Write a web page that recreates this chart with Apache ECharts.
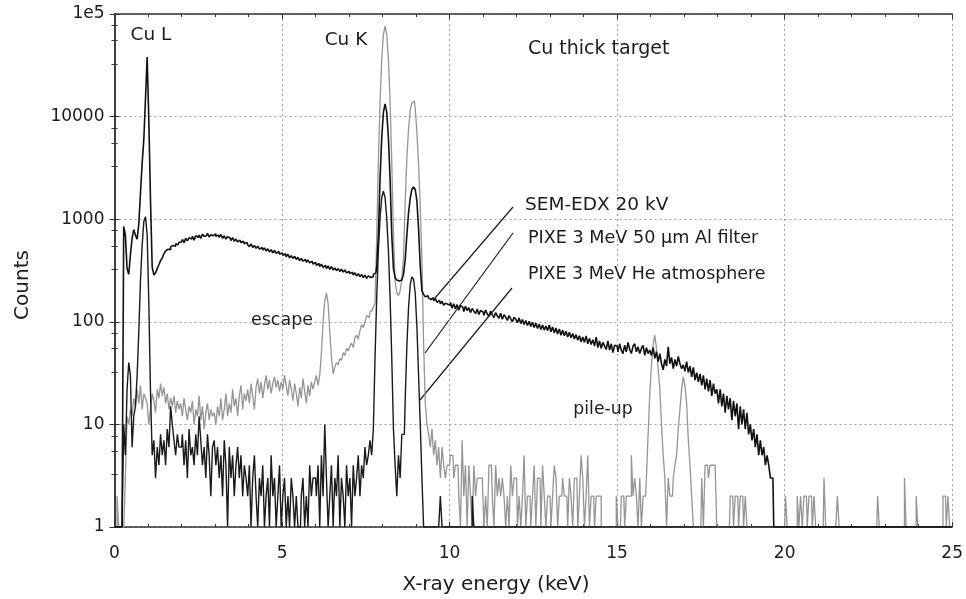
<!DOCTYPE html>
<html><head><meta charset="utf-8">
<script src="https://cdn.jsdelivr.net/npm/echarts@6/dist/echarts.min.js"></script>
<style>html,body{margin:0;padding:0;background:#fff}#chart{width:966px;height:599px}</style>
</head><body><div id="chart"></div>
<script>
// Channel width of the spectra (keV); channel i is at energy i * channelWidthKeV
const channelWidthKeV = 0.05;

// SEM-EDX 20 kV (black)
const semEdx20kV = [
1,1,1,1,1,1,850,700,330,290,450,650,790,700,640,900,1800,3500,6000,15000,
38000,9000,1500,340,286,300,330,360,395,420,460,490,510,505,540,555,545,575,565,595,
600,635,590,650,615,660,640,680,625,690,665,700,650,715,680,695,730,670,705,690,
720,680,700,665,710,650,690,640,675,655,620,660,610,640,600,625,590,610,575,595,
565,540,575,530,555,520,545,510,530,500,525,490,515,480,505,470,495,465,485,455,
470,445,460,430,455,420,440,415,435,405,425,395,415,390,405,380,400,375,390,365,
380,355,370,345,365,340,355,330,350,325,345,320,335,315,330,310,325,305,320,300,
310,295,305,285,300,280,295,275,290,270,285,265,280,270,275,290,300,340,700,2450,
6200,11000,13300,11000,6200,2450,700,330,270,255,250,255,260,290,400,700,1150,1600,1950,2060,
1950,1500,800,350,200,185,175,180,170,165,172,160,168,155,162,150,158,145,152,148,
145,155,136,150,133,147,130,144,138,126,142,129,137,123,135,127,120,133,118,129,
125,116,130,119,113,127,117,110,123,114,108,121,106,117,111,103,115,107,100,111,
106,98,109,96,105,94,103,92,101,90,99,88,97,86,95,84,93,83,91,82,
93,80,89,78,87,76,85,74,83,73,81,71,79,70,77,68,75,66,73,64,
71,63,73,61,69,60,67,58,71,56,65,55,63,58,54,65,53,61,50,59,
58,51,61,53,49,59,51,63,54,49,58,61,51,57,49,55,59,47,56,49,
53,47,56,44,51,41,49,39,34,43,37,57,39,45,35,43,37,46,39,35,
38,33,41,32,37,29,36,27,32,26,31,24,30,22,28,21,27,19,25,20,
22,16,22,15,20,13,19,14,18,11,17,12,16,9,15,10,14,9,13,8,
10,7,9,6,8,5,7,5,6,4,5,4,3,3,1,1,1,1,1,1,
1,1,1,1,1,1,1,1,1,1,1,1,1,1,1,1,1,1,1,1,
1,1,1,1,1,1,1,1,1,1,1,1,1,1,1,1,1,1,1,1,
1,1,1,1,1,1,1,1,1,1,1,1,1,1,1,1,1,1,1,1,
1,1,1,1,1,1,1,1,1,1,1,1,1,1,1,1,1,1,1,1,
1,1,1,1,1,1,1,1,1,1,1,1,1,1,1,1,1,1,1,1,
1
];

// PIXE 3 MeV 50 µm Al filter (grey, with escape and pile-up peaks)
const pixeAlFilter = [
1,1,2,1,1,1,1,3,12,10,14,12,18,15,22,16,24,14,20,18,
16,10,14,20,17,13,22,18,25,19,23,16,20,14,18,15,19,13,17,14,
16,12,18,14,11,15,13,17,10,14,12,19,11,15,9,13,16,11,14,12,
13,10,15,12,18,11,14,20,12,16,13,22,15,18,12,19,24,14,20,17,
22,16,25,19,14,23,28,20,26,18,24,30,22,27,20,25,29,23,27,21,
26,22,30,24,19,27,22,17,25,20,15,23,18,28,21,16,24,19,26,22,
26,30,24,30,50,100,160,190,150,80,45,31,36,40,38,44,42,50,47,55,
52,58,62,56,70,74,68,82,94,88,100,115,110,125,130,140,150,660,3600,13800,
36000,63000,76000,63000,36000,13800,3600,700,250,190,180,200,260,420,1420,3900,7500,11500,13600,14200,
12000,7000,3400,1300,400,60,16,10,8,6,9,5,7,4,6,3,6,4,3,4,
4,5,5,3,4,4,2,1,7,2,4,1,4,2,1,4,2,3,3,3,
3,1,2,1,4,4,2,1,4,2,3,2,3,2,1,2,1,4,2,3,
3,1,2,1,2,5,1,2,2,1,2,4,1,3,3,1,4,2,1,2,
2,1,2,4,3,1,2,2,3,2,2,1,3,2,1,3,3,1,2,5,
3,1,2,5,1,2,2,1,2,2,2,1,1,1,1,1,1,1,1,1,
2,1,1,2,2,1,2,2,2,5,2,3,2,1,3,1,2,2,3,8,
20,38,60,74,55,35,22,10,5,3,1,3,2,2,3,4,5,9,14,22,
29,24,16,7,4,2,1,1,1,1,1,3,1,4,4,3,4,4,4,4,
1,1,1,1,1,1,1,1,2,2,1,2,2,1,2,2,1,2,1,1,
1,1,1,1,1,1,1,1,1,1,1,1,1,1,1,1,1,1,1,1,
1,2,1,1,1,1,1,1,2,1,2,1,2,2,1,2,2,1,2,1,
1,1,1,1,3,1,1,1,1,1,1,1,2,1,1,1,1,1,1,1,
1,1,1,1,1,1,1,1,1,1,1,1,1,1,1,1,2,1,1,1,
1,1,1,1,1,1,1,1,1,1,1,1,3,1,1,1,1,1,1,2,
1,1,1,1,1,1,1,1,1,1,1,1,1,1,1,2,2,1,2,1,
1
];

// PIXE 3 MeV He atmosphere (black)
const pixeHeAtmosphere = [
1,1,1,1,1,1,10,5,22,40,30,6,12,15,30,80,250,550,950,1060,
700,150,20,5,7,3,6,4,8,5,7,4,9,6,15,10,7,5,8,6,
6,8,4,7,3,9,5,6,4,8,5,12,7,4,6,3,8,5,2,6,
7,4,6,3,5,2,7,4,1,6,3,5,2,4,6,3,5,2,4,3,
2,4,1,3,5,2,1,3,2,4,1,2,3,1,5,2,3,1,2,4,
1,2,3,1,2,1,3,2,1,2,1,1,2,3,1,2,1,4,2,3,
3,2,4,1,5,2,10,3,1,2,4,1,3,2,5,1,3,2,1,4,
2,3,1,4,2,3,5,2,4,3,6,4,5,7,5,9,44,172,490,1030,
1620,1880,1620,1030,490,172,44,9,4,2,5,3,8,8,17,58,137,230,274,260,
190,90,30,10,3,1,1,1,1,1,1,1,1,1,1,2,1,1,1,1,
1,1,1,1,1,1,1,1,1,1,1,1,1,1,2,1,1,1,1,1,
1,1,1,1,1,1,1,1,1,1,1,1,1,1,1,1,1,1,1,1,
1,1,1,1,1,1,1,1,1,1,1,1,1,1,1,1,1,1,1,1,
1,1,1,1,1,1,1,1,1,1,1,1,1,1,1,1,1,1,1,1,
1,1,1,1,1,1,1,1,1,1,1,1,1,1,1,1,1,1,1,1,
1,1,1,1,1,1,1,1,1,1,1,1,1,1,1,1,1,1,1,1,
1,1,1,1,1,1,1,1,1,1,1,1,1,1,1,1,1,1,1,1,
1,1,1,1,1,1,1,1,1,1,1,1,1,1,1,1,1,1,1,1,
1,1,1,1,1,1,1,1,1,1,1,1,1,1,1,1,1,1,1,1,
1,1,1,1,1,1,1,1,1,1,1,1,1,1,1,1,1,1,1,1,
1,1,1,1,1,1,1,1,1,1,1,1,1,1,1,1,1,1,1,1,
1,1,1,1,1,1,1,1,1,1,1,1,1,1,1,1,1,1,1,1,
1,1,1,1,1,1,1,1,1,1,1,1,1,1,1,1,1,1,1,1,
1,1,1,1,1,1,1,1,1,1,1,1,1,1,1,1,1,1,1,1,
1,1,1,1,1,1,1,1,1,1,1,1,1,1,1,1,1,1,1,1,
1
];

const energyKeV = semEdx20kV.map((_, i) => Math.round(i * channelWidthKeV * 100) / 100);

const xTickLabels = ['0', '5', '10', '15', '20', '25'];
const yTickLabels = { 1: '1', 10: '10', 100: '100', 1000: '1000', 10000: '10000', 100000: '1e5' };

const FONT = '"DejaVu Sans", sans-serif';
const INK = '#1c1c1c';

function pairs(values) { return values.map((v, i) => [energyKeV[i], v]); }

const chart = echarts.init(document.getElementById('chart'), null, { renderer: 'canvas' });

const gridLine = { show: true, lineStyle: { color: '#a0a0a0', type: [2, 3], width: 1 } };
const axisLine = { show: true, lineStyle: { color: '#333', width: 1.5 } };
const tick = { show: true, inside: true, length: 5, lineStyle: { color: '#333' } };

chart.setOption({
  animation: false,
  backgroundColor: '#fff',
  grid: { left: 114.5, right: 13.3, top: 14, bottom: 72, containLabel: false },
  xAxis: [
    {
      type: 'value', min: 0, max: 25, interval: 5, position: 'bottom',
      axisLine, axisTick: tick,
      minorTick: { show: true, splitNumber: 5, length: 3, lineStyle: { color: '#333' } },
      splitLine: gridLine,
      axisLabel: { fontFamily: FONT, fontSize: 17, color: INK, margin: 18,
        formatter: v => xTickLabels[Math.round(v / 5)] }
    },
    {
      type: 'value', min: 0, max: 25, interval: 5, position: 'top',
      axisLine, axisTick: tick,
      minorTick: { show: true, splitNumber: 5, length: 3, lineStyle: { color: '#333' } },
      splitLine: { show: false }, axisLabel: { show: false }
    }
  ],
  yAxis: [
    {
      type: 'log', logBase: 10, min: 1, max: 100000, splitNumber: 5, position: 'left',
      axisLine, axisTick: tick,
      minorTick: { show: true, splitNumber: 4, length: 3, lineStyle: { color: '#333' } },
      splitLine: gridLine,
      axisLabel: { fontFamily: FONT, fontSize: 17, color: INK, margin: 10,
        formatter: v => yTickLabels[Math.round(v)] || '' }
    },
    {
      type: 'log', logBase: 10, min: 1, max: 100000, splitNumber: 5, position: 'right',
      axisLine, axisTick: tick,
      minorTick: { show: true, splitNumber: 4, length: 3, lineStyle: { color: '#333' } },
      splitLine: { show: false }, axisLabel: { show: false }
    }
  ],
  series: [
    { name: 'PIXE 3 MeV 50 µm Al filter', type: 'line', step: 'middle', showSymbol: false, symbol: 'none',
      data: pairs(pixeAlFilter), lineStyle: { color: '#959595', width: 1.3 }, silent: true, z: 2 },
    { name: 'PIXE 3 MeV He atmosphere', type: 'line', step: 'middle', showSymbol: false, symbol: 'none',
      data: pairs(pixeHeAtmosphere), lineStyle: { color: '#1a1a1a', width: 1.4 }, silent: true, z: 3 },
    { name: 'SEM-EDX 20 kV', type: 'line', step: 'middle', showSymbol: false, symbol: 'none',
      data: pairs(semEdx20kV), lineStyle: { color: '#111', width: 1.6 }, silent: true, z: 4 }
  ],
  graphic: [
    { type: 'text', x: 151, y: 35, style: { text: 'Cu L', font: '18.5px ' + FONT, fill: INK, align: 'center', verticalAlign: 'middle' } },
    { type: 'text', x: 346, y: 40, style: { text: 'Cu K', font: '18.5px ' + FONT, fill: INK, align: 'center', verticalAlign: 'middle' } },
    { type: 'text', x: 528, y: 49, style: { text: 'Cu thick target', font: '19px ' + FONT, fill: INK, align: 'left', verticalAlign: 'middle' } },
    { type: 'text', x: 525, y: 205, style: { text: 'SEM-EDX 20 kV', font: '18.5px ' + FONT, fill: INK, align: 'left', verticalAlign: 'middle' } },
    { type: 'text', x: 528, y: 238, style: { text: 'PIXE 3 MeV 50 µm Al filter', font: '17.6px ' + FONT, fill: INK, align: 'left', verticalAlign: 'middle' } },
    { type: 'text', x: 528, y: 274, style: { text: 'PIXE 3 MeV He atmosphere', font: '17.4px ' + FONT, fill: INK, align: 'left', verticalAlign: 'middle' } },
    { type: 'text', x: 282, y: 320, style: { text: 'escape', font: '17.5px ' + FONT, fill: INK, align: 'center', verticalAlign: 'middle' } },
    { type: 'text', x: 603, y: 410, style: { text: 'pile-up', font: '17.3px ' + FONT, fill: INK, align: 'center', verticalAlign: 'middle' } },
    { type: 'line', shape: { x1: 513, y1: 207, x2: 435, y2: 298 }, style: { stroke: INK, lineWidth: 1.2 } },
    { type: 'line', shape: { x1: 513, y1: 233, x2: 425, y2: 353 }, style: { stroke: INK, lineWidth: 1.2 } },
    { type: 'line', shape: { x1: 512, y1: 288, x2: 420, y2: 400 }, style: { stroke: INK, lineWidth: 1.2 } },
    { type: 'text', x: 496, y: 585, style: { text: 'X-ray energy (keV)', font: '20px ' + FONT, fill: INK, align: 'center', verticalAlign: 'middle' } },
    { type: 'text', x: 23, y: 285, rotation: Math.PI / 2, style: { text: 'Counts', font: '20px ' + FONT, fill: INK, align: 'center', verticalAlign: 'middle' } }
  ]
});
</script>
</body></html>
